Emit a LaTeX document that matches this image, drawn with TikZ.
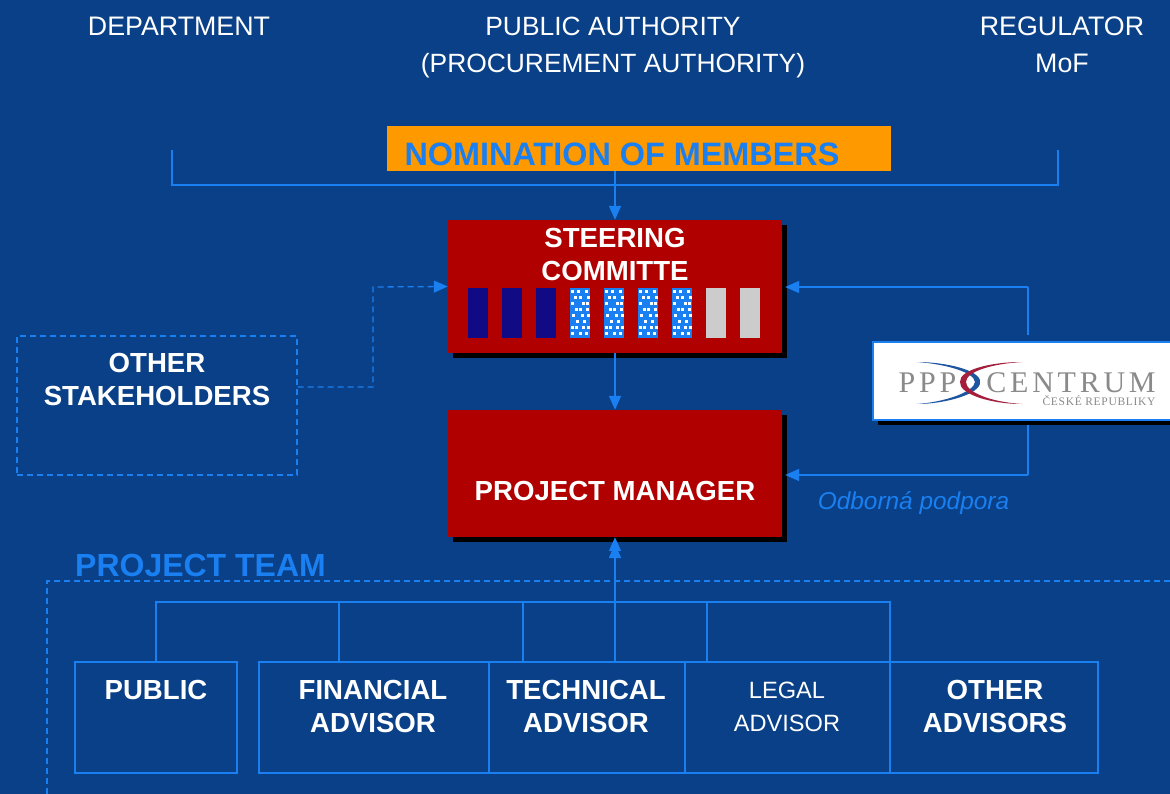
\documentclass[tikz,border=0pt]{standalone}
\usepackage{fontspec}
\usepackage{tikz}
\usetikzlibrary{arrows.meta,shadows}
\setmainfont{Liberation Sans}
\newfontfamily\logofont[LetterSpace=12.5]{Liberation Serif}
\newfontfamily\logosmall[LetterSpace=6]{Liberation Serif}
\definecolor{bgblue}{RGB}{9,64,135}
\definecolor{lineblue}{RGB}{26,127,240}
\definecolor{boxred}{RGB}{176,0,0}
\definecolor{barnavy}{RGB}{16,10,133}
\definecolor{bargray}{RGB}{204,204,204}
\definecolor{noteorange}{RGB}{255,153,0}
\definecolor{logogray}{RGB}{138,138,138}
\definecolor{logoblue}{RGB}{30,85,160}
\definecolor{logored}{RGB}{165,30,60}
\tikzset{
    tip/.tip={Triangle[length=14pt,width=12pt]},
    head/.style={text=white, font=\fontsize{26.8}{37}\selectfont, align=center},
    redbox/.style={fill=boxred, minimum width=334pt, inner sep=0pt,
        drop shadow={shadow xshift=5pt, shadow yshift=-5pt, fill=black, opacity=1}},
    boldtext/.style={text=white, font=\fontsize{27.6}{33}\selectfont\bfseries, align=center},
    teambox/.style={draw=lineblue, line width=2pt, minimum height=111pt, inner sep=0pt},
    link/.style={draw=lineblue, line width=1.6pt},
    linkarrow/.style={link, -tip},
    dashlink/.style={draw=lineblue, line width=1.3pt, dash pattern=on 6pt off 4pt},
    bar/.style={minimum width=20pt, minimum height=50pt, inner sep=0pt},
    logotext/.style={text=logogray, inner sep=0pt}
}
\begin{document}
\begin{tikzpicture}[x=1pt,y=-1pt]

            \clip (0,0) rectangle (1170,794);
            \fill[bgblue] (0,0) rectangle (1170,794);

            \node[head] (department) at (179,26) {DEPARTMENT};
            \node[head, font=\fontsize{26.4}{37}\selectfont] (authority) at (613,47.5) {PUBLIC AUTHORITY\\(PROCUREMENT AUTHORITY)};
            \node[head] (regulator) at (1062,45) {REGULATOR\\MoF};

            % nomination
            \node[fill=noteorange, minimum width=504pt, minimum height=45pt, inner sep=0pt] (nomination) at (639,148.5) {};
            \node[text=lineblue, font=\fontsize{32.4}{36}\selectfont\bfseries] (nominationtext) at (622,154) {NOMINATION OF MEMBERS};
            \coordinate (deptfoot) at (172,150);
            \coordinate (regfoot) at (1058,150);
            \draw[link] (deptfoot) |- (regfoot |- 0,185) -- (regfoot);

            % red boxes
            \node[redbox, minimum height=133pt] (steering) at (615,286.5) {};
            \node[boldtext] (steeringtext) at (615,254.5) {STEERING\\COMMITTE};
            \node[redbox, minimum height=127pt] (manager) at (615,473.5) {};
            \node[boldtext] (managertext) at (615,491) {PROJECT MANAGER};
            \draw[linkarrow] (nomination.south -| steering.north) -- (steering.north);
            \draw[linkarrow] (steering.south) -- (manager.north);

            % bars in the committee
            \foreach \x/\n in {478/a,512/b,546/c}
            {
                \node[bar, fill=barnavy] (bar\n) at (\x,313) {};
            }
            \foreach \x/\n in {580/d,614/e,648/f,682/g}
            {
                \node[bar, fill=lineblue] (bar\n) at (\x,313) {};
                \foreach \i/\j in {1/2,7/2,15/2,4/8,9/8,17/8,1/14,12/14,16/14,5/20,9/20,16/20,2/26,11/26,17/26,6/32,13/32,1/38,5/38,12/38,17/38,1/44,9/44,15/44}
                {
                    \fill[white] (\x-10+\i,313-25+\j) rectangle +(3,3);
                }
            }
            \foreach \x/\n in {716/h,750/i}
            {
                \node[bar, fill=bargray] (bar\n) at (\x,313) {};
            }

            % stakeholders
            \node[dashlink, minimum width=280pt, minimum height=139pt, inner sep=0pt] (stakeholders) at (157,405.5) {};
            \node[boldtext] (stakeholderstext) at (157,379.5) {OTHER\\STAKEHOLDERS};
            \draw[dashlink, -tip] (stakeholders.east |- 0,387) -| (373,287) -- (steering.west);

            % logo
            \coordinate (logotop) at (1028,335);
            \coordinate (logofoot) at (1028,420);
            \draw[link] (logotop) -- (logofoot |- 0,287);
            \draw[linkarrow, shorten >=3pt] (logotop |- 0,287) -- (steering.east |- 0,287);
            \draw[link] (logofoot) -- (logofoot |- 0,475);
            \draw[linkarrow, shorten >=3pt] (logofoot |- 0,475) -- (manager.east |- 0,475);
            \fill[black] (878,346) rectangle (1180,425);
            \node[draw=lineblue, line width=2pt, fill=white, minimum width=302pt, minimum height=78pt, inner sep=0pt] (logo) at (1024,381) {};
            \fill[logoblue] (917,362) .. controls (945,362) and (981,370) .. (980,382) .. controls (981,394) and (945,404) .. (917,404)
                .. controls (945,402) and (974,392) .. (975,382) .. controls (974,372) and (945,364) .. cycle;
            \fill[logored] (1022,362) .. controls (990,362) and (959,370) .. (960,382) .. controls (959,394) and (990,404) .. (1022,404)
                .. controls (990,402) and (966,392) .. (966,382) .. controls (966,372) and (990,364) .. cycle;
            \node[logotext, font=\fontsize{30}{30}\logofont] (logoppp) at (927.5,382.5) {PPP};
            \node[logotext, font=\fontsize{30}{30}\logofont] (logocentrum) at (1071,382.5) {CENTRUM};
            \node[logotext, font=\fontsize{11.5}{12}\logosmall] (logosub) at (1099,401) {ČESKÉ REPUBLIKY};

            \node[text=lineblue, font=\fontsize{24.4}{28}\selectfont\itshape] (support) at (913.5,503) {Odborná podpora};

            % project team
            \node[text=lineblue, font=\fontsize{32}{36}\selectfont\bfseries] (teamtitle) at (200.5,565) {PROJECT TEAM};
            \draw[dashlink] (47,794) -- (47,581) -- (1170,581);

            \node[teambox, minimum width=162pt] (public) at (156,717.5) {};
            \node[teambox, minimum width=230pt] (financial) at (374,717.5) {};
            \node[teambox, minimum width=196pt] (technical) at (587,717.5) {};
            \node[teambox, minimum width=205pt] (legal) at (787.5,717.5) {};
            \node[teambox, minimum width=208pt] (others) at (994,717.5) {};

            \node[boldtext] (publictext) at (156,690) {PUBLIC};
            \node[boldtext] (financialtext) at (373,706.5) {FINANCIAL\\ADVISOR};
            \node[boldtext] (technicaltext) at (586,706.5) {TECHNICAL\\ADVISOR};
            \node[boldtext, font=\fontsize{23.6}{33}\selectfont] (legaltext) at (787,706.5) {LEGAL\\ADVISOR};
            \node[boldtext] (otherstext) at (995,706.5) {OTHER\\ADVISORS};

            \coordinate (treeleft) at (156,602);
            \coordinate (treeright) at (890,602);
            \draw[link, line width=2pt] (public.north) -- (treeleft) -- (treeright) -- (treeright |- public.north);
            \foreach \x in {339,523,707}
            {
                \draw[draw=lineblue, line width=1.3pt] (\x,602) -- (\x,662);
            }
            \draw[link, -tip] (615,662) -- (manager.south);
            \draw[link, -tip] (615,662) -- (615,544);

        \end{tikzpicture}
\end{document}
